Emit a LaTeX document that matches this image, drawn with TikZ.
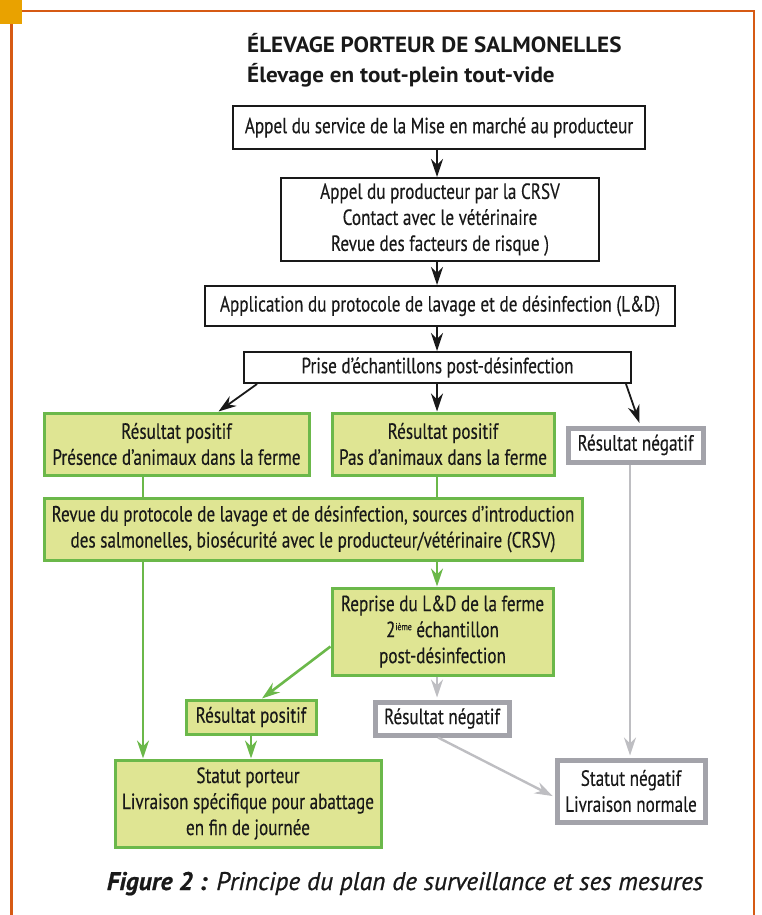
\documentclass[tikz,border=0pt]{standalone}
\usepackage{fontspec}
\setmainfont{PT Sans}
\newfontfamily\condfont{PT Sans}[FakeStretch=0.78,FakeBold=0.3]
\newfontfamily\headfont{PT Sans}[FakeStretch=1.05]
\newfontfamily\capfont{PT Sans}[FakeBold=0.8]
\usepackage{tikz}
\usetikzlibrary{positioning}
\usetikzlibrary{arrows.meta}
\definecolor{greenfill}{HTML}{DFE593}
\definecolor{greenedge}{HTML}{6BB84A}
\definecolor{greyedge}{HTML}{A3A3AA}
\definecolor{greyline}{HTML}{BEBEC2}
\definecolor{frameorange}{HTML}{D65A14}
\definecolor{cornerorange}{HTML}{E9A200}
\tikzset{
  boxtext/.style={align=center, inner sep=0pt, text=black!90,
    font=\condfont\fontsize{22}{26}\selectfont},
  blackbox/.style={boxtext, draw=black!90, line width=2pt, fill=white},
  greenbox/.style={boxtext, draw=greenedge, line width=3pt, fill=greenfill},
  greybox/.style={boxtext, draw=greyedge, line width=5pt, fill=white},
  tip/.style={-{Stealth[length=18pt,width=12pt,inset=6pt]}},
  blackarrow/.style={tip, line width=1.8pt, black!90},
  greenline/.style={line width=2.6pt, greenedge},
  greenarrow/.style={tip, line width=2.6pt, greenedge},
  greyarrow/.style={tip, line width=2.4pt, greyline, shorten >=2pt},
  titletext/.style={inner sep=0pt, text=black!90, font=\headfont\bfseries\fontsize{22}{24}\selectfont}
}

\begin{document}
\begin{tikzpicture}[x=1pt,y=-1pt]
\useasboundingbox (0,0) rectangle (761,915);
\draw[frameorange, line width=2.5pt] (11.5,915) -- (11.5,11) -- (754,11) -- (754,915);
\fill[cornerorange] (0,0) rectangle (22,24);

\node[titletext, anchor=base west] (titre) at (247,53) {ÉLEVAGE PORTEUR DE SALMONELLES};
\node[titletext, anchor=base west] (soustitre) at (247,83) {Élevage en tout-plein tout-vide};

\coordinate (colL) at (143,0);
\coordinate (colC) at (251,0);
\coordinate (colM) at (437,0);
\coordinate (colR) at (630,0);

\node[blackbox, minimum width=412, minimum height=43] (appel) at (439,127.5)
  {Appel du service de la Mise en marché au producteur};
\node[blackbox, minimum width=318, minimum height=83] (crsv) at (440,219.5)
  {Appel du producteur par la CRSV\\Contact avec le vétérinaire\\Revue des facteurs de risque )};
\node[blackbox, minimum width=470, minimum height=40] (lavage) at (440,306)
  {Application du protocole de lavage et de désinfection (L\&D)};
\node[blackbox, minimum width=387, minimum height=31] (prise) at (437.5,367.5)
  {Prise d’échantillons post-désinfection};

\node[greenbox, minimum width=265, minimum height=62] (posA) at (176.5,444)
  {Résultat positif\\Présence d’animaux dans la ferme};
\node[greenbox, minimum width=222, minimum height=62] (posB) at (443,444)
  {Résultat positif\\Pas d’animaux dans la ferme};
\node[greybox, minimum width=135, minimum height=34] (negA) at (635.5,445)
  {Résultat négatif};
\node[greenbox, minimum width=538, minimum height=62] (revue) at (313,529)
  {Revue du protocole de lavage et de désinfection, sources d’introduction\\des salmonelles, biosécurité avec le producteur/vétérinaire (CRSV)};
\node[greenbox, minimum width=221, minimum height=87] (reprise) at (442.5,631.5)
  {Reprise du L\&D de la ferme\\2\raisebox{7pt}{\fontsize{10}{10}\selectfont ième} échantillon\\post-désinfection};
\node[greenbox, minimum width=130, minimum height=34] (posC) at (251,717)
  {Résultat positif};
\node[greybox, minimum width=134, minimum height=33] (negB) at (442,718.5)
  {Résultat négatif};
\node[greenbox, minimum width=266, minimum height=87] (porteur) at (248,803.5)
  {Statut porteur\\Livraison spécifique pour abattage\\en fin de journée};
\node[greybox, minimum width=148, minimum height=62] (statneg) at (631,791)
  {Statut négatif\\Livraison normale};

\draw[blackarrow] (appel.south -| colM) -- (crsv.north -| colM);
\draw[blackarrow] (crsv.south -| colM) -- (lavage.north -| colM);
\draw[blackarrow] (lavage.south -| colM) -- (prise.north -| colM);
\draw[blackarrow] ([xshift=14pt]prise.south west) -- ([xshift=42pt]posA.north);
\draw[blackarrow] (prise.south -| colM) -- (posB.north -| colM);
\draw[blackarrow] ([xshift=-6pt]prise.south east) -- ([xshift=4pt,yshift=2.5pt]negA.north);

\draw[greenline] (posA.south -| colL) -- (revue.north -| colL);
\draw[greenline] (posB.south -| colM) -- (revue.north -| colM);
\draw[greenarrow] (revue.south -| colM) -- (reprise.north -| colM);
\draw[greenarrow] (revue.south -| colL) -- (porteur.north -| colL);
\draw[greenarrow] ([yshift=-15pt]reprise.west) -- ([xshift=11pt]posC.north);
\draw[greenarrow] (posC.south -| colC) -- (porteur.north -| colC);

\draw[greyarrow] (negA.south -| colR) -- (statneg.north -| colR);
\draw[greyarrow] (reprise.south -| colM) -- (negB.north -| colM);
\draw[greyarrow] ([xshift=-4pt]negB.south) -- ([yshift=-6pt]statneg.west);

\node[anchor=base, inner sep=0pt, text=black!90, font=\capfont\itshape\fontsize{25.5}{28}\selectfont] (legende) at (405,890)
  {\textbf{Figure 2 :} Principe du plan de surveillance et ses mesures};
\end{tikzpicture}
\end{document}
